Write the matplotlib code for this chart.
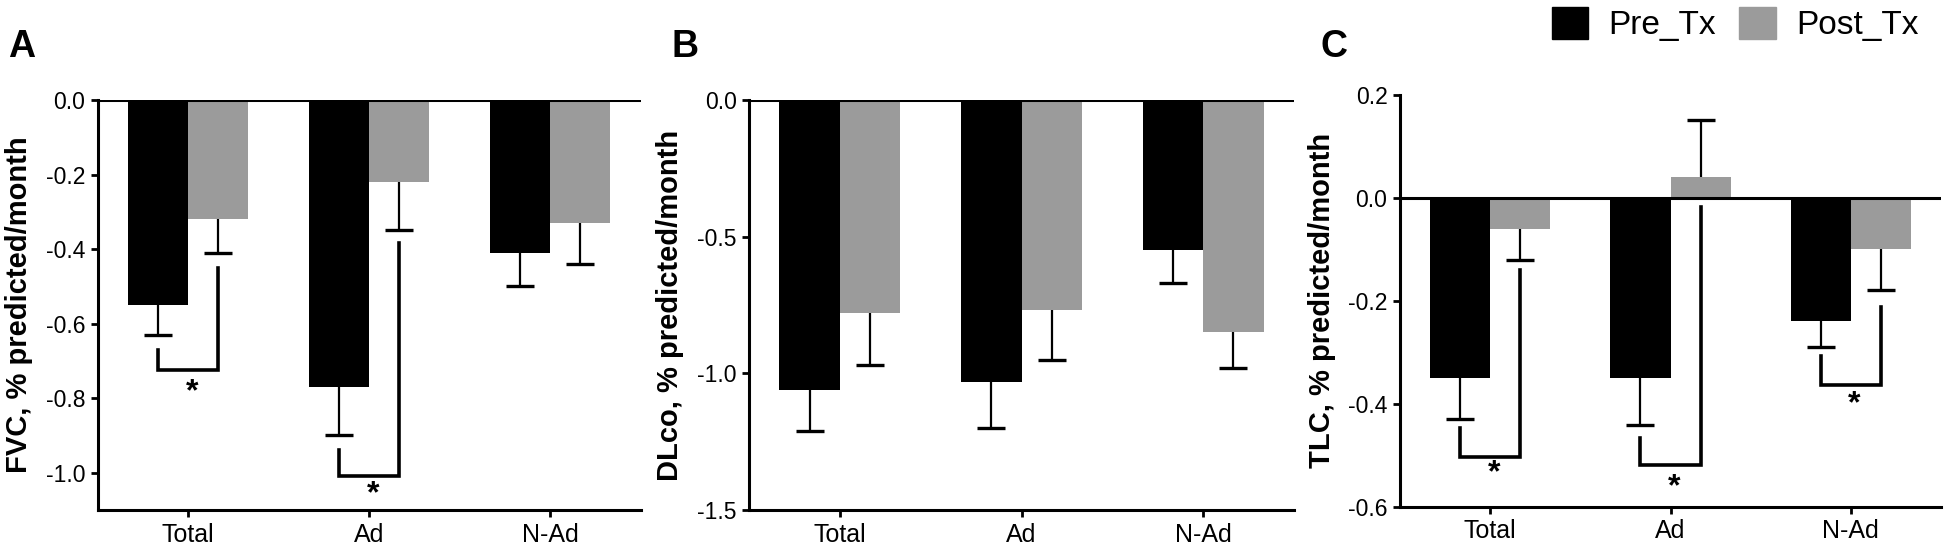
import matplotlib
matplotlib.use("Agg")
import matplotlib.pyplot as plt
import numpy as np
from matplotlib.patches import Patch

plt.rcParams['font.family'] = ['Liberation Sans', 'DejaVu Sans']
plt.rcParams['axes.unicode_minus'] = False

# data
cats = ["Total", "Ad", "N-Ad"]

fvc_pre = [-0.55, -0.77, -0.41]
fvc_pre_err = [0.08, 0.13, 0.09]
fvc_post = [-0.32, -0.22, -0.33]
fvc_post_err = [0.09, 0.13, 0.11]

dlco_pre = [-1.06, -1.03, -0.55]
dlco_pre_err = [0.15, 0.17, 0.12]
dlco_post = [-0.78, -0.77, -0.85]
dlco_post_err = [0.19, 0.18, 0.13]

tlc_pre = [-0.35, -0.35, -0.24]
tlc_pre_err = [0.08, 0.09, 0.05]
tlc_post = [-0.06, 0.04, -0.10]
tlc_post_err = [0.06, 0.11, 0.08]

# significance brackets: (category, left top, bottom, right top, star y)
fvc_sig = [(0, -0.67, -0.724, -0.45, -0.783), (1, -0.94, -1.008, -0.384, -1.058)]
dlco_sig = []
tlc_sig = [(0, -0.447, -0.503, -0.141, -0.535), (1, -0.466, -0.519, -0.019, -0.562),
           (2, -0.308, -0.364, -0.213, -0.401)]

c_pre = "#000000"
c_post = "#9b9b9b"
w = 0.333

fig = plt.figure(figsize=(19.46, 5.53), dpi=100)

def panel(rect, pre, pre_err, post, post_err, sig, ylim, yticks, ylabel, letter, letter_x):
    ax = fig.add_axes(rect)
    x = np.arange(len(cats))
    ax.bar(x - w/2, pre, w, color=c_pre, zorder=2)
    ax.bar(x + w/2, post, w, color=c_post, zorder=2)
    # one-sided error bars, pointing away from zero
    for xs, vals, errs in [(x - w/2, pre, pre_err), (x + w/2, post, post_err)]:
        vals = np.array(vals)
        ends = vals + np.sign(vals) * np.array(errs)
        ax.vlines(xs, vals, ends, color='k', lw=1.6, zorder=3)
        ax.plot(xs, ends, '_', color='k', markersize=20, mew=2.4, zorder=3)
    for i, ylt, yb, yrt, ys in sig:
        ax.plot([i - w/2, i - w/2, i + w/2, i + w/2], [ylt, yb, yb, yrt],
                color='k', lw=2.6, solid_joinstyle='miter', zorder=4)
        ax.text(i + 0.02, ys, "*", ha='center', va='center', fontsize=23, fontweight='bold')
    ax.axhline(0, color='k', lw=2.2, zorder=5)
    ax.set_xlim(-0.5, 2.5)
    ax.set_ylim(*ylim)
    ax.set_yticks(yticks)
    ax.set_yticklabels([f"{t:.1f}" for t in yticks])
    ax.set_xticks(x)
    ax.set_xticklabels(cats)
    for s in ['top', 'right']:
        ax.spines[s].set_visible(False)
    for s in ['left', 'bottom']:
        ax.spines[s].set_linewidth(2.2)
    ax.tick_params(axis='both', length=5, width=2, pad=4)
    ax.tick_params(axis='y', labelsize=16.5)
    ax.tick_params(axis='x', labelsize=18)
    ax.set_ylabel(ylabel, fontsize=21, fontweight='bold', labelpad=9)
    fig.text(letter_x, 1 - 57/553, letter, fontsize=27, fontweight='bold', ha='left', va='baseline')
    return ax

panel([97.6/1946, 43/553, 543/1946, 410/553], fvc_pre, fvc_pre_err, fvc_post, fvc_post_err,
      fvc_sig, (-1.1, 0), [0.0, -0.2, -0.4, -0.6, -0.8, -1.0], "FVC, % predicted/month", "A", 8/1946)
panel([749/1946, 43/553, 545/1946, 410/553], dlco_pre, dlco_pre_err, dlco_post, dlco_post_err,
      dlco_sig, (-1.5, 0), [0.0, -0.5, -1.0, -1.5], "DLco, % predicted/month", "B", 672/1946)
panel([1400/1946, 46/553, 541/1946, 412.5/553], tlc_pre, tlc_pre_err, tlc_post, tlc_post_err,
      tlc_sig, (-0.6, 0.2), [0.2, 0.0, -0.2, -0.4, -0.6], "TLC, % predicted/month", "C", 1321/1946)

handles = [Patch(color=c_pre), Patch(color=c_post)]
fig.legend(handles, ["Pre_Tx", "Post_Tx"], loc='upper left', bbox_to_anchor=(1545/1946, 1.0),
           ncol=2, frameon=False, fontsize=24, handlelength=1.1, handleheight=1.1,
           handletextpad=0.6, columnspacing=0.7, borderaxespad=0.1, borderpad=0.1)

fig.savefig("out.png", dpi=100)
